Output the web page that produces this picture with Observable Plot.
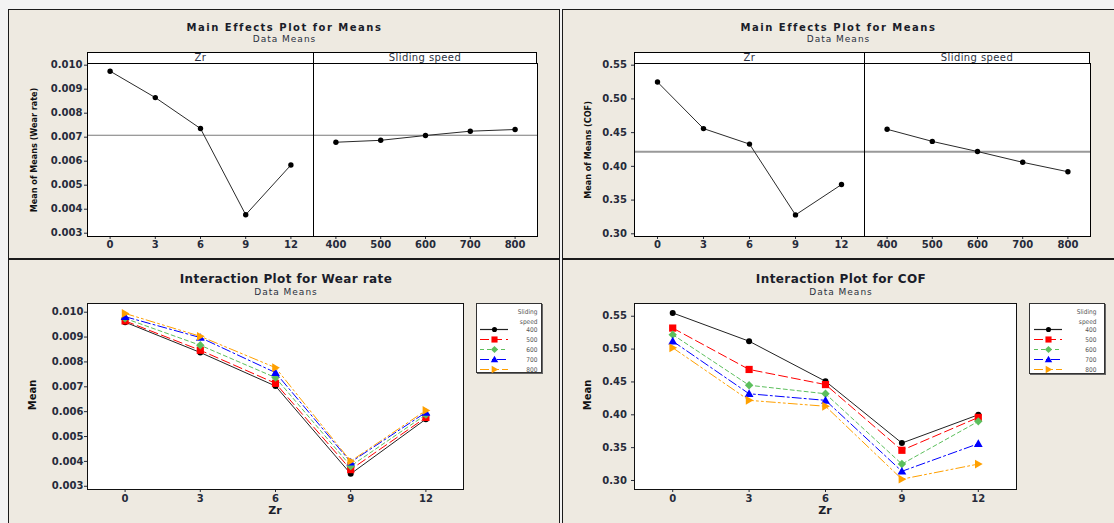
<!DOCTYPE html>
<html><head><meta charset="utf-8">
<script src="https://cdn.jsdelivr.net/npm/d3@7"></script>
<script src="https://cdn.jsdelivr.net/npm/@observablehq/plot@0.6"></script>
<style>
html,body{margin:0;padding:0;}
body{width:1114px;height:523px;background:#f3f3f3;position:relative;overflow:hidden;font-family:"DejaVu Sans",sans-serif;}
.panel{position:absolute;background:#eeeae1;border:1.5px solid #1b1b1b;box-sizing:border-box;}
.txt{position:absolute;white-space:nowrap;line-height:1;color:#1f2433;}
.strip{position:absolute;background:#fff;border:1px solid #000;box-sizing:border-box;text-align:center;font-size:10px;line-height:10px;letter-spacing:0.4px;color:#2a3040;}
.legbox{position:absolute;background:#fff;border:1px solid #333;box-sizing:border-box;box-shadow:1px 1px 0 #666;}
svg.abs{position:absolute;}
</style></head><body>
<script>
// ---------- data ----------
const zrLevels = [0, 3, 6, 9, 12];
const speedLevels = [400, 500, 600, 700, 800];
const wearTicks = [0.003, 0.004, 0.005, 0.006, 0.007, 0.008, 0.009, 0.010];
const cofTicks = [0.30, 0.35, 0.40, 0.45, 0.50, 0.55];

const wearMeanByZr = [0.00975, 0.00865, 0.00736, 0.00377, 0.00584];
const wearMeanBySpeed = [0.00679, 0.00687, 0.00707, 0.00725, 0.00732];
const wearGrandMean = 0.00708;

const cofMeanByZr = [0.525, 0.456, 0.433, 0.328, 0.373];
const cofMeanBySpeed = [0.455, 0.437, 0.422, 0.406, 0.392];
const cofGrandMean = 0.4215;

// interaction: values at Zr = 0,3,6,9,12 for each sliding speed
const wear400 = [0.00960, 0.00838, 0.00703, 0.00350, 0.00570];
const wear500 = [0.00965, 0.00847, 0.00714, 0.00367, 0.00577];
const wear600 = [0.00975, 0.00867, 0.00737, 0.00381, 0.00588];
const wear700 = [0.00982, 0.00898, 0.00757, 0.00397, 0.00597];
const wear800 = [0.00995, 0.00903, 0.00777, 0.00401, 0.00605];

const cof400 = [0.555, 0.512, 0.451, 0.357, 0.400];
const cof500 = [0.532, 0.469, 0.446, 0.346, 0.396];
const cof600 = [0.522, 0.445, 0.432, 0.325, 0.390];
const cof700 = [0.512, 0.432, 0.422, 0.314, 0.356];
const cof800 = [0.502, 0.422, 0.413, 0.302, 0.325];

const wearSeries = [wear400, wear500, wear600, wear700, wear800];
const cofSeries = [cof400, cof500, cof600, cof700, cof800];

// ---------- styles ----------
const seriesColor = ["#222222", "#ff0000", "#5cbf5c", "#0000ff", "#ffa000"];
const seriesDash = [null, "9,4", "4,3", "9,3,2,3", "9,3,2,3,2,3"];
const symSquare = {draw(c, s){const h=Math.sqrt(s/Math.PI); c.moveTo(-h,-h); c.lineTo(h,-h); c.lineTo(h,h); c.lineTo(-h,h); c.closePath();}};
const symDiamond = {draw(c, s){const h=Math.sqrt(s/Math.PI); c.moveTo(0,-h); c.lineTo(h,0); c.lineTo(0,h); c.lineTo(-h,0); c.closePath();}};
const symTriUp = {draw(c, s){const h=Math.sqrt(s/Math.PI); c.moveTo(0,-h); c.lineTo(h,h*0.75); c.lineTo(-h,h*0.75); c.closePath();}};
const symTriRight = {draw(c, s){const h=Math.sqrt(s/Math.PI); c.moveTo(h,0); c.lineTo(-h*0.75,-h); c.lineTo(-h*0.75,h); c.closePath();}};
const seriesSymbol = ["circle", symSquare, symDiamond, symTriUp, symTriRight];
const seriesR = [3, 3.6, 4.2, 4.4, 4.4];

const baseStyle = {background:"transparent", overflow:"visible", fontFamily:"'DejaVu Sans', sans-serif", fontSize:"10px", fontWeight:"bold", color:"#262b3a"};

// ---------- helpers ----------
function div(cls, left, top, w, h, text) {
  const d = document.createElement("div");
  d.className = cls;
  d.style.left = left + "px"; d.style.top = top + "px";
  if (w != null) d.style.width = w + "px";
  if (h != null) d.style.height = h + "px";
  if (text != null) d.textContent = text;
  document.body.appendChild(d);
  return d;
}
function text(t, cx, cy, css, rotate) {
  const d = div("txt", cx, cy, null, null, t);
  Object.assign(d.style, css);
  d.style.transform = "translate(-50%,-50%)" + (rotate ? " rotate(-90deg)" : "");
  return d;
}
function place(svg, left, top) {
  svg.classList.add("abs");
  svg.style.left = left + "px"; svg.style.top = top + "px";
  document.body.appendChild(svg);
}
const titleCss = {fontSize:"10px", fontWeight:"bold", letterSpacing:"1.5px", color:"#1a1d2a"};
const subCss = {fontSize:"9px", letterSpacing:"1px", color:"#2a3040"};
const iTitleCss = {fontSize:"12px", fontWeight:"bold", letterSpacing:"0.4px", color:"#1a1d2a"};

// ---------- panels ----------
div("panel", 8, 9, 552, 250);
div("panel", 562, 9, 560, 250);
div("panel", 8, 259, 552, 270);
div("panel", 562, 259, 560, 270);

function mainEffects(o) {
  const H = 258, top = 63, bottom = 236;
  const zrData = zrLevels.map((z, i) => ({level: z, value: o.zrVals[i]}));
  const spData = speedLevels.map((s, i) => ({level: s, value: o.spVals[i]}));
  // strips
  div("strip", o.frameL, 52, o.divider - o.frameL + 1, 12, "Zr");
  div("strip", o.divider, 52, o.frameR - o.divider, 12, "Sliding speed");
  const common = {height: H, marginTop: top, marginBottom: H - bottom, style: baseStyle};
  const p1 = Plot.plot({
    ...common,
    width: o.divider - o.panelL, marginLeft: o.frameL - o.panelL, marginRight: 0,
    x: {domain: [-1.5, 13.5], ticks: zrLevels, tickFormat: d => String(d), tickSize: 3, tickPadding: 1, label: null},
    y: {domain: o.yDomain, ticks: o.yTicks, tickFormat: o.yFmt, tickSize: 3, tickPadding: o.yPad, label: null},
    marks: [
      Plot.frame({fill: "white", stroke: "none"}),
      Plot.ruleY([o.grand], {stroke: o.meanColor, strokeWidth: o.meanWidth}),
      Plot.line(zrData, {x: "level", y: "value", stroke: "#2a2a2a", strokeWidth: 1}),
      Plot.dot(zrData, {x: "level", y: "value", r: 2.7, fill: "black"}),
      Plot.frame({stroke: "black", strokeWidth: 1})
    ]
  });
  place(p1, o.panelL, 0);
  const p2 = Plot.plot({
    ...common,
    width: o.panelR - o.divider, marginLeft: 0, marginRight: o.panelR - o.frameR,
    x: {domain: [350, 850], ticks: speedLevels, tickFormat: d => String(d), tickSize: 3, tickPadding: 1, label: null},
    y: {domain: o.yDomain, axis: null},
    marks: [
      Plot.frame({fill: "white", stroke: "none"}),
      Plot.ruleY([o.grand], {stroke: o.meanColor, strokeWidth: o.meanWidth}),
      Plot.line(spData, {x: "level", y: "value", stroke: "#2a2a2a", strokeWidth: 1}),
      Plot.dot(spData, {x: "level", y: "value", r: 2.7, fill: "black"}),
      Plot.frame({stroke: "black", strokeWidth: 1})
    ]
  });
  place(p2, o.divider, 0);
  const cx = (o.panelL + o.panelR) / 2;
  text("Main Effects Plot for Means", cx, 28, titleCss);
  text("Data Means", cx, 39, subCss);
  text(o.yLabel, o.yLabelX, 150, {fontSize:"9px", fontWeight:"bold", fontFamily:"'DejaVu Sans Condensed','DejaVu Sans',sans-serif", color:"#111"}, true);
}

mainEffects({panelL: 9, panelR: 560, frameL: 87, divider: 313, frameR: 537,
  yDomain: [0.002863, 0.01007], yTicks: wearTicks, yFmt: d3.format(".3f"), yPad: 2,
  zrVals: wearMeanByZr, spVals: wearMeanBySpeed, grand: wearGrandMean,
  meanColor: "#7a7a7a", meanWidth: 1.2, yLabel: "Mean of Means (Wear rate)", yLabelX: 34});

mainEffects({panelL: 563, panelR: 1114, frameL: 634, divider: 864, frameR: 1090,
  yDomain: [0.296, 0.5525], yTicks: cofTicks, yFmt: d3.format(".2f"), yPad: 4.5,
  zrVals: cofMeanByZr, spVals: cofMeanBySpeed, grand: cofGrandMean,
  meanColor: "#999999", meanWidth: 2, yLabel: "Mean of Means (COF)", yLabelX: 588});

function interaction(o) {
  const top = 260, H = 263;
  const marks = [Plot.frame({fill: "white", stroke: "none"})];
  speedLevels.forEach((s, k) => {
    const data = zrLevels.map((z, i) => ({zr: z, value: o.series[k][i]}));
    const lineOpts = {x: "zr", y: "value", stroke: seriesColor[k], strokeWidth: 1};
    if (seriesDash[k]) lineOpts.strokeDasharray = seriesDash[k];
    marks.push(Plot.line(data, lineOpts));
    marks.push(Plot.dot(data, {x: "zr", y: "value", r: seriesR[k], symbol: seriesSymbol[k], fill: k === 0 ? "#000" : seriesColor[k], stroke: "none"}));
  });
  marks.push(Plot.frame({stroke: "#111", strokeWidth: 1}));
  const W = 460;
  const p = Plot.plot({
    width: W, height: H, marginLeft: o.frameL - o.panelL, marginRight: o.panelL + W - o.frameR,
    marginTop: 303 - top, marginBottom: H - (489 - top), style: baseStyle,
    x: {domain: [-1.5, 13.5], ticks: zrLevels, tickFormat: d => String(d), tickSize: 3, tickPadding: 2, label: null},
    y: {domain: o.yDomain, ticks: o.yTicks, tickFormat: o.yFmt, tickSize: 3, tickPadding: o.yPad, label: null},
    marks
  });
  place(p, o.panelL, top);
  text(o.title, o.titleX, 279, iTitleCss);
  text("Data Means", o.titleX, 292, subCss);
  text("Mean", o.meanX, 395, {fontSize:"10px", fontWeight:"bold", color:"#111"}, true);
  text("Zr", (o.frameL + o.frameR) / 2, 510, {fontSize:"11px", fontWeight:"bold", color:"#1a1d2a"});

  // legend
  const L = o.legend;
  div("legbox", L.left, 303, L.w, L.h);
  const leg = Plot.plot({
    width: L.w, height: L.h, marginTop: 26, marginBottom: L.h - 66, marginLeft: L.lineL, marginRight: L.w - L.lineR,
    style: {...baseStyle, fontSize: "6.5px", fontWeight: "normal", fontFamily: "'DejaVu Sans Condensed','DejaVu Sans',sans-serif", color: "#555"},
    x: {domain: [0, 1], axis: null},
    y: {type: "point", domain: speedLevels.map(String), axis: null, padding: 0},
    marks: [
      ...speedLevels.flatMap((s, k) => {
        const ro = {y: d => d, stroke: seriesColor[k], strokeWidth: 1.2};
        if (seriesDash[k]) ro.strokeDasharray = seriesDash[k];
        return [
          Plot.ruleY([String(s)], ro),
          Plot.dot([String(s)], {y: d => d, r: seriesR[k] * 0.85, symbol: seriesSymbol[k], fill: k === 0 ? "#000" : seriesColor[k], stroke: "none"})
        ];
      }),
      Plot.text(speedLevels.map(String), {y: d => d, text: d => d, frameAnchor: "right", dx: L.textR - L.lineR, textAnchor: "end", fill: "#555"}),
      Plot.text(["Sliding\nspeed"], {frameAnchor: "top-right", dx: L.textR - L.lineR, dy: -22, textAnchor: "end", lineAnchor: "top", lineHeight: 1.45, fill: "#555"})
    ]
  });
  place(leg, L.left, 303);
}

interaction({panelL: 9, frameL: 87, frameR: 463, yDomain: [0.00287, 0.01035], yTicks: wearTicks, yFmt: d3.format(".3f"), yPad: 1,
  series: wearSeries, title: "Interaction Plot for Wear rate", titleX: 286, meanX: 33,
  legend: {left: 476, w: 66, h: 70, lineL: 4, lineR: 32, textR: 61}});

interaction({panelL: 563, frameL: 634, frameR: 1016, yDomain: [0.2863, 0.5694], yTicks: cofTicks, yFmt: d3.format(".2f"), yPad: 4.5,
  series: cofSeries, title: "Interaction Plot for COF", titleX: 841, meanX: 588,
  legend: {left: 1029, w: 76, h: 71, lineL: 5, lineR: 33, textR: 67}});
</script>
</body></html>
